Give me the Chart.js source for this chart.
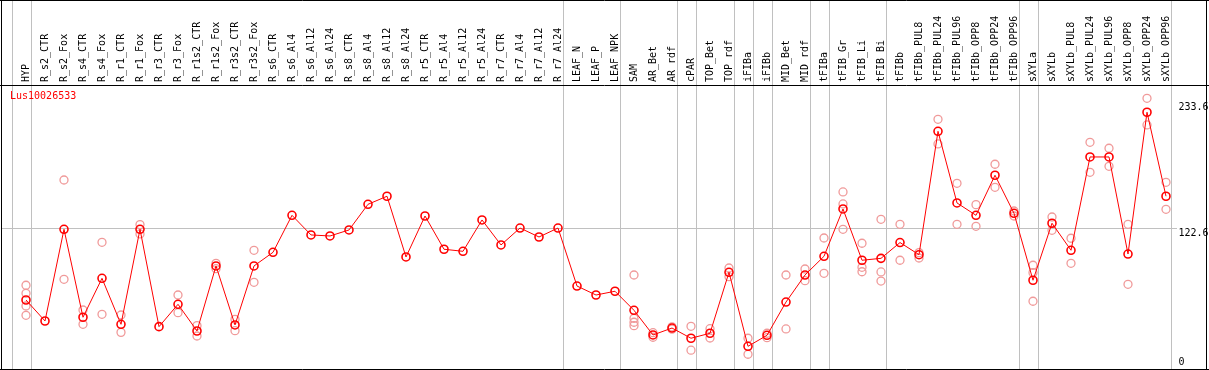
<!DOCTYPE html>
<html>
<head>
<meta charset="utf-8">
<script src="https://cdn.jsdelivr.net/npm/chart.js@4.4.1/dist/chart.umd.min.js"></script>
<style>
  html, body { margin: 0; padding: 0; background: #fff; }
  canvas { display: block; }
</style>
</head>
<body>
<canvas id="myChart" width="1209" height="370"></canvas>
<script>
// gene shown
var geneName = 'Lus10026533';

// tissues / conditions, left to right
var categories = ['HYP', 'R_s2_CTR', 'R_s2_Fox', 'R_s4_CTR', 'R_s4_Fox', 'R_r1_CTR', 'R_r1_Fox',
  'R_r3_CTR', 'R_r3_Fox', 'R_r1s2_CTR', 'R_r1s2_Fox', 'R_r3s2_CTR', 'R_r3s2_Fox',
  'R_s6_CTR', 'R_s6_Al4', 'R_s6_Al12', 'R_s6_Al24', 'R_s8_CTR', 'R_s8_Al4', 'R_s8_Al12', 'R_s8_Al24',
  'R_r5_CTR', 'R_r5_Al4', 'R_r5_Al12', 'R_r5_Al24', 'R_r7_CTR', 'R_r7_Al4', 'R_r7_Al12', 'R_r7_Al24',
  'LEAF_N', 'LEAF_P', 'LEAF_NPK', 'SAM', 'AR_Bet', 'AR_rdf', 'cPAR', 'TOP_Bet', 'TOP_rdf',
  'iFIBa', 'iFIBb', 'MID_Bet', 'MID_rdf', 'tFIBa', 'tFIB_Gr', 'tFIB_Li', 'tFIB_Bi', 'tFIBb',
  'tFIBb_PUL8', 'tFIBb_PUL24', 'tFIBb_PUL96', 'tFIBb_OPP8', 'tFIBb_OPP24', 'tFIBb_OPP96',
  'sXYLa', 'sXYLb', 'sXYLb_PUL8', 'sXYLb_PUL24', 'sXYLb_PUL96', 'sXYLb_OPP8', 'sXYLb_OPP24', 'sXYLb_OPP96'];

// mean expression per category
var meanValues = [59.2, 40.7, 121.5, 44.0, 78.3, 37.8, 121.5, 35.7, 55.4, 31.9, 89.2, 37.2, 89.2,
  101.2, 133.8, 116.5, 115.6, 120.9, 143.5, 150.6, 97.1, 133.2, 103.9, 102.1, 129.7, 107.7, 122.6, 114.7, 122.6,
  71.5, 63.6, 66.9, 50.1, 28.4, 34.5, 25.5, 29.9, 83.6, 18.4, 28.1, 57.4, 81.2, 97.7, 139.4, 94.2, 95.9,
  109.8, 99.1, 207.8, 144.7, 133.8, 169.1, 135.6, 76.6, 126.8, 103.0, 185.2, 185.2, 99.7, 224.6, 150.6];

// single replicates per category
var replicateValues = [
  [72.2, 65.1, 53.9, 45.7], [], [164.9, 77.4], [50.4, 37.8], [110.0, 46.6], [46.0, 30.7], [125.6, 117.4],
  [], [63.6, 48.0], [36.6, 27.5], [91.5, 86.8], [42.2, 32.2], [103.0, 74.8],
  [], [], [], [], [], [], [], [], [], [], [], [], [], [], [], [],
  [], [], [], [81.2, 43.1, 39.6, 36.6], [30.4, 26.4], [35.5, 33.5], [36.0, 15.0], [33.9, 25.7], [87.4, 79.7],
  [25.5, 11.4], [29.9, 26.0], [81.2, 33.7], [86.5, 76.2], [113.8, 82.7], [154.4, 143.8, 121.5],
  [109.2, 88.0, 84.1], [130.3, 83.9, 75.9], [125.9, 94.2],
  [100.9, 96.2], [218.4, 196.7], [162.0, 125.9], [143.2, 124.1], [178.8, 158.5], [137.6, 133.2],
  [89.8, 83.3, 58.1], [132.3, 120.6], [113.6, 91.5], [198.1, 171.7], [192.9, 177.0], [125.9, 73.0],
  [236.9, 213.4], [162.9, 139.1]];

// y tick labels
var yTicks = [0, 122.6, 233.6];

// group separators come right after these category indexes
var groupEnds = [-1, 0, 28, 31, 34, 35, 37, 38, 39, 41, 42, 45, 52, 53, 60];

var meanPoints = meanValues.map(function (v, i) { return { x: i, y: v }; });
var repPoints = [];
replicateValues.forEach(function (list, i) {
  list.forEach(function (v) { repPoints.push({ x: i, y: v }); });
});

var monoFont = '10px "DejaVu Sans Mono", monospace';

var decorPlugin = {
  id: 'decor',
  beforeDatasetsDraw: function (chart) {
    var ctx = chart.ctx;
    var xs = chart.scales.x;
    ctx.save();
    ctx.strokeStyle = '#c0c0c0';
    ctx.lineWidth = 1;
    groupEnds.forEach(function (g) {
      var px = Math.round(xs.getPixelForValue(g + 0.25)) + 0.5;
      ctx.beginPath();
      ctx.moveTo(px, 0);
      ctx.lineTo(px, chart.height);
      ctx.stroke();
    });
    ctx.restore();
  },
  afterDraw: function (chart) {
    var ctx = chart.ctx;
    var a = chart.chartArea;
    var ys = chart.scales.y;
    ctx.save();
    // frame
    ctx.strokeStyle = '#000';
    ctx.lineWidth = 1;
    ctx.beginPath();
    ctx.moveTo(0, 0.5); ctx.lineTo(chart.width, 0.5);
    ctx.moveTo(0, Math.round(a.top) + 0.5); ctx.lineTo(chart.width, Math.round(a.top) + 0.5);
    ctx.moveTo(0, Math.round(a.bottom) + 0.5); ctx.lineTo(chart.width, Math.round(a.bottom) + 0.5);
    ctx.moveTo(1.5, 0); ctx.lineTo(1.5, chart.height);
    ctx.moveTo(1206.5, 0); ctx.lineTo(1206.5, chart.height);
    ctx.stroke();
    // y labels, kept inside the plot
    ctx.font = monoFont;
    ctx.fillStyle = '#000';
    ctx.textBaseline = 'top';
    ctx.textAlign = 'left';
    ys.ticks.forEach(function (t) {
      var py = ys.getPixelForValue(t.value);
      py = Math.min(py, a.bottom - 12);
      ctx.fillText(String(t.value), a.right + 1.5, py);
    });
    // gene name
    ctx.fillStyle = '#ff0000';
    ctx.fillText(geneName, 10, a.top + 6);
    ctx.restore();
  }
};

var chart = new Chart(document.getElementById('myChart').getContext('2d'), {
  type: 'scatter',
  data: {
    datasets: [{
      label: 'mean',
      data: meanPoints,
      showLine: true,
      borderColor: '#ff0000',
      borderWidth: 1,
      pointRadius: 4,
      pointBorderWidth: 1.6,
      pointBorderColor: '#ff0000',
      pointBackgroundColor: 'rgba(0,0,0,0)',
      order: 1
    }, {
      label: 'replicates',
      data: repPoints,
      pointRadius: 4,
      pointBorderWidth: 1.3,
      pointBorderColor: '#f09a9a',
      pointBackgroundColor: 'rgba(0,0,0,0)',
      order: 2
    }]
  },
  options: {
    responsive: false,
    animation: false,
    layout: { autoPadding: false, padding: { left: 1, bottom: 1 } },
    plugins: { legend: { display: false }, tooltip: { enabled: false } },
    scales: {
      x: {
        type: 'linear',
        position: 'top',
        min: -25 / 19,
        max: 1151 / 19,
        grid: { display: false, drawTicks: false },
        border: { display: false },
        afterBuildTicks: function (s) {
          s.ticks = categories.map(function (c, i) { return { value: i }; });
        },
        afterFit: function (s) { s.height = 85; },
        ticks: {
          autoSkip: false,
          minRotation: 90,
          maxRotation: 90,
          padding: 3,
          labelOffset: 12,
          color: '#000',
          font: { family: 'DejaVu Sans Mono', size: 10 },
          callback: function (v, i) { return categories[i]; }
        }
      },
      y: {
        type: 'linear',
        position: 'right',
        min: -1.59,
        max: 248.6,
        afterBuildTicks: function (s) {
          s.ticks = yTicks.map(function (v) { return { value: v }; });
        },
        afterFit: function (s) { s.width = 32; },
        grid: {
          drawTicks: false,
          color: function (c) { return c.tick && c.tick.value === 122.6 ? '#c0c0c0' : 'rgba(0,0,0,0)'; }
        },
        border: { display: false },
        ticks: { display: false }
      }
    }
  },
  plugins: [decorPlugin]
});
</script>
</body>
</html>
